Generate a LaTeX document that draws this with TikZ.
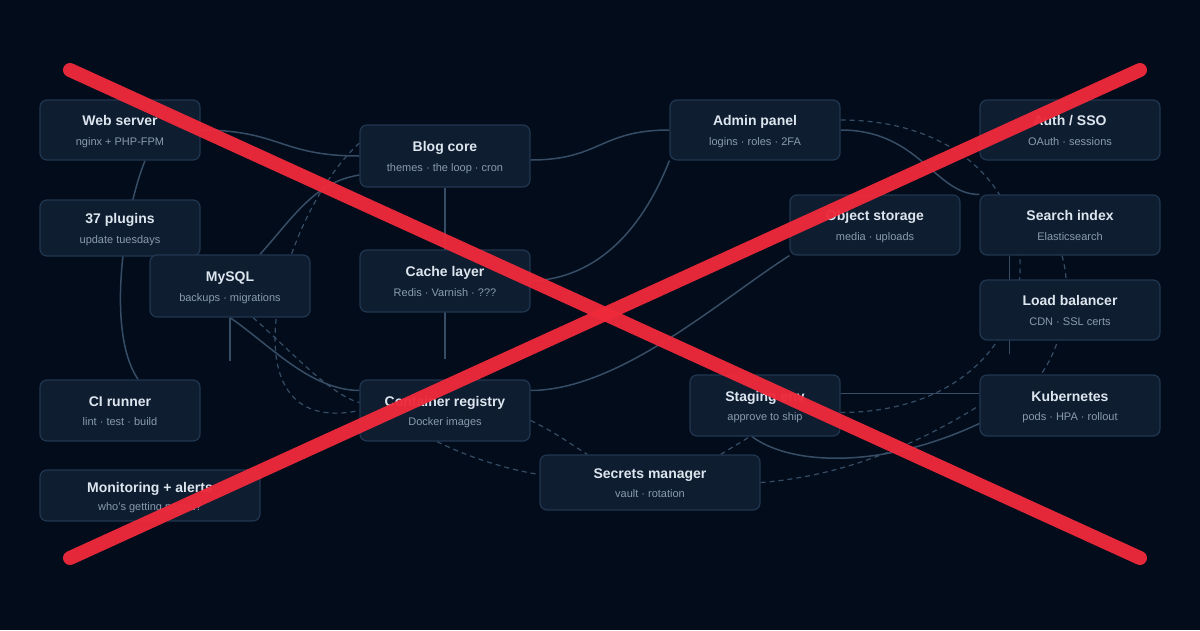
\documentclass[tikz,border=0pt]{standalone}
\usepackage{fontspec}
\setmainfont{Liberation Sans}
\usepackage{xcolor}
\usetikzlibrary{calc}
\definecolor{bgnavy}{HTML}{020C1B}
\definecolor{boxfill}{HTML}{0E1D30}
\definecolor{boxline}{HTML}{213750}
\definecolor{wirecol}{HTML}{374D65}
\definecolor{titlecol}{HTML}{DDE5EE}
\definecolor{notecol}{HTML}{8B9BB0}
\definecolor{redx}{HTML}{EE2A3B}
\pgfdeclarelayer{wires}
\pgfsetlayers{wires,main}

\begin{document}
\begin{tikzpicture}[x=1pt, y=-1pt,
  svc/.style={draw=boxline, fill=boxfill, line width=1.2pt, rounded corners=7pt, inner sep=0pt},
  svctitle/.style={anchor=base, inner sep=0pt, text=titlecol, font=\fontsize{14}{16}\selectfont\bfseries},
  svcnote/.style={anchor=base, inner sep=0pt, text=notecol, font=\fontsize{11}{13}\selectfont},
  wire/.style={draw=wirecol, line width=1.5pt},
  softwire/.style={draw=wirecol, line width=1.2pt, dash pattern=on 5pt off 4pt},
  cross/.style={draw=redx, line width=14pt, line cap=round, opacity=.96}]
 \useasboundingbox (0,0) rectangle (1200,630);

 \node[svc, minimum width=160pt, minimum height=60pt] (web) at (120,130) {};
 \node[svctitle] (webT) at ([yshift=4.5pt]web.center) {Web server};
 \node[svcnote] (webN) at ([yshift=-15pt]web.center) {nginx + PHP-FPM};
 \node[svc, minimum width=160pt, minimum height=56pt] (plugins) at (120,228) {};
 \node[svctitle] (pluginsT) at ([yshift=4.5pt]plugins.center) {37 plugins};
 \node[svcnote] (pluginsN) at ([yshift=-15pt]plugins.center) {update tuesdays};
 \node[svc, minimum width=160pt, minimum height=62pt] (mysql) at (230,286) {};
 \node[svctitle] (mysqlT) at ([yshift=4.5pt]mysql.center) {MySQL};
 \node[svcnote] (mysqlN) at ([yshift=-15pt]mysql.center) {backups · migrations};
 \node[svc, minimum width=160pt, minimum height=61pt] (ci) at (120,410.5) {};
 \node[svctitle] (ciT) at ([yshift=4.5pt]ci.center) {CI runner};
 \node[svcnote] (ciN) at ([yshift=-15pt]ci.center) {lint · test · build};
 \node[svc, minimum width=220pt, minimum height=51pt] (monitor) at (150,495.5) {};
 \node[svctitle] (monitorT) at ([yshift=3pt]monitor.center) {Monitoring + alerts};
 \node[svcnote] (monitorN) at ([yshift=-15pt]monitor.center) {who's getting paged?};

 \node[svc, minimum width=170pt, minimum height=62pt] (blog) at (445,156) {};
 \node[svctitle] (blogT) at ([yshift=4.5pt]blog.center) {Blog core};
 \node[svcnote] (blogN) at ([yshift=-15pt]blog.center) {themes · the loop · cron};
 \node[svc, minimum width=170pt, minimum height=62pt] (cache) at (445,281) {};
 \node[svctitle] (cacheT) at ([yshift=4.5pt]cache.center) {Cache layer};
 \node[svcnote] (cacheN) at ([yshift=-15pt]cache.center) {Redis · Varnish · ???};
 \node[svc, minimum width=170pt, minimum height=61pt] (registry) at (445,410.5) {};
 \node[svctitle] (registryT) at ([yshift=4.5pt]registry.center) {Container registry};
 \node[svcnote] (registryN) at ([yshift=-15pt]registry.center) {Docker images};
 \node[svc, minimum width=220pt, minimum height=55pt] (secrets) at (650,482.5) {};
 \node[svctitle] (secretsT) at ([yshift=4pt]secrets.center) {Secrets manager};
 \node[svcnote] (secretsN) at ([yshift=-15pt]secrets.center) {vault · rotation};

 \node[svc, minimum width=170pt, minimum height=60pt] (admin) at (755,130) {};
 \node[svctitle] (adminT) at ([yshift=4.5pt]admin.center) {Admin panel};
 \node[svcnote] (adminN) at ([yshift=-15pt]admin.center) {logins · roles · 2FA};
 \node[svc, minimum width=170pt, minimum height=60pt] (storage) at (875,225) {};
 \node[svctitle] (storageT) at ([yshift=4.5pt]storage.center) {Object storage};
 \node[svcnote] (storageN) at ([yshift=-15pt]storage.center) {media · uploads};
 \node[svc, minimum width=150pt, minimum height=61pt] (staging) at (765,405.5) {};
 \node[svctitle] (stagingT) at ([yshift=4.5pt]staging.center) {Staging env};
 \node[svcnote] (stagingN) at ([yshift=-15pt]staging.center) {approve to ship};

 \node[svc, minimum width=180pt, minimum height=60pt] (auth) at (1070,130) {};
 \node[svctitle] (authT) at ([yshift=4.5pt]auth.center) {Auth / SSO};
 \node[svcnote] (authN) at ([yshift=-15pt]auth.center) {OAuth · sessions};
 \node[svc, minimum width=180pt, minimum height=60pt] (search) at (1070,225) {};
 \node[svctitle] (searchT) at ([yshift=4.5pt]search.center) {Search index};
 \node[svcnote] (searchN) at ([yshift=-15pt]search.center) {Elasticsearch};
 \node[svc, minimum width=180pt, minimum height=60pt] (lb) at (1070,310) {};
 \node[svctitle] (lbT) at ([yshift=4.5pt]lb.center) {Load balancer};
 \node[svcnote] (lbN) at ([yshift=-15pt]lb.center) {CDN · SSL certs};
 \node[svc, minimum width=180pt, minimum height=61pt] (kube) at (1070,405.5) {};
 \node[svctitle] (kubeT) at ([yshift=4.5pt]kube.center) {Kubernetes};
 \node[svcnote] (kubeN) at ([yshift=-15pt]kube.center) {pods · HPA · rollout};

 \coordinate (mysqlEnd) at ([yshift=-43pt]mysql.south);
 \coordinate (blogEnd) at ([yshift=20pt]registry.north);
 \coordinate (searchEnd) at ([xshift=30pt,yshift=20pt]kube.north west);

 \begin{pgfonlayer}{wires}
 \fill[bgnavy] (0,0) rectangle (1200,630);
 % solid links
 \draw[wire] (web.east) .. controls (280,130) and (280,156) .. (blog.west);
 \draw[wire] ([xshift=25pt]web.south) .. controls (125,210) and (105,330) .. ([xshift=18pt]ci.north);
 \draw[wire] ([xshift=30pt]mysql.north) .. controls (295,215) and (315,182) .. ([yshift=-19pt]blog.west);
 \draw[wire] (blog.south) -- (blogEnd);
 \draw[wire] ([yshift=-4pt]blog.east) .. controls (600,160) and (600,130) .. (admin.west);
 \draw[wire] (cache.east) .. controls (610,278) and (650,210) .. (admin.south west);
 \draw[wire] (mysql.south) .. controls (270,345) and (310,390) .. ([yshift=20pt]registry.west);
 \draw[wire] (mysql.south) -- (mysqlEnd);
 \draw[wire] ([yshift=20pt]registry.east) .. controls (620,390) and (720,300) .. (storage.south west);
 \draw[wire] (admin.east) .. controls (920,130) and (935,195) .. (search.north west);
 \draw[wire] ([xshift=30pt]search.south west) -- (searchEnd);
 \draw[wire] ([yshift=12pt]staging.east) -- ([yshift=12pt]kube.west);
 \draw[wire] ([xshift=-13pt]staging.south) .. controls (790,465) and (880,470) .. ([yshift=-18pt]kube.west);
 % dashed links
 \draw[softwire] ([yshift=13pt]blog.west) .. controls (280,215) and (218,440) .. (registry.west);
 \draw[softwire] ([xshift=23pt]mysql.south) .. controls (290,350) and (330,395) .. ([yshift=8pt]registry.west);
 \draw[softwire] ([yshift=-10pt]registry.east) .. controls (555,432) and (575,447) .. ([xshift=48pt]secrets.north west);
 \draw[softwire] ([xshift=-8pt]registry.south) .. controls (470,458) and (510,470) .. ([yshift=8pt]secrets.west);
 \draw[softwire] ([xshift=-40pt]secrets.north east) -- ([xshift=-15pt]staging.south);
 \draw[softwire] (secrets.east) .. controls (860,475) and (940,430) .. (kube.west);
 \draw[softwire] ([yshift=10pt]admin.east) .. controls (1080,120) and (1080,412) .. ([yshift=-7pt]staging.east);
 \draw[softwire] ([xshift=-8pt]search.south) .. controls (1072,290) and (1065,340) .. ([xshift=-29pt]kube.north);
 \end{pgfonlayer}

 \coordinate (xA) at (70,70);
 \coordinate (xB) at (1140,558);
 \coordinate (xC) at (1140,70);
 \coordinate (xD) at (70,558);
 \draw[cross] (xA) -- (xB);
 \draw[cross] (xC) -- (xD);
\end{tikzpicture}
\end{document}
